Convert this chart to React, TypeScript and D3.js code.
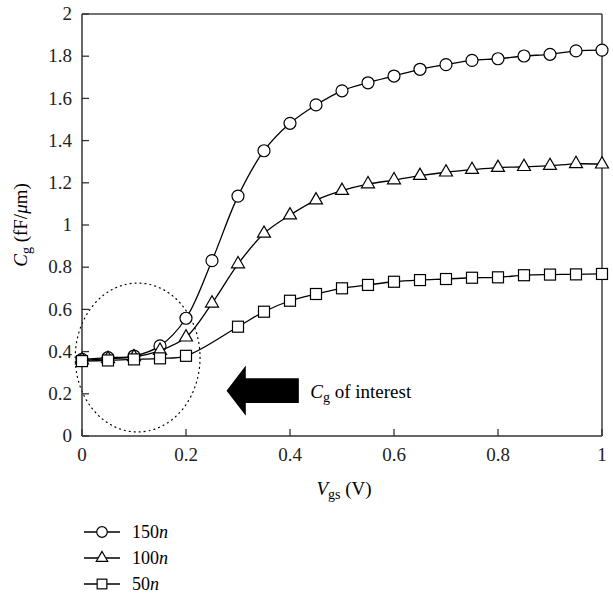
import React from "react";
import * as d3 from "d3";

const xs150 = [0, 0.05, 0.1, 0.15, 0.2, 0.25, 0.3, 0.35, 0.4, 0.45, 0.5, 0.55, 0.6, 0.65, 0.7, 0.75, 0.8, 0.85, 0.9, 0.95, 1.0];
const ys150 = [0.363, 0.371, 0.379, 0.427, 0.558, 0.831, 1.137, 1.352, 1.482, 1.569, 1.636, 1.674, 1.706, 1.738, 1.76, 1.78, 1.788, 1.801, 1.809, 1.825, 1.829];
const xs100 = [0, 0.05, 0.1, 0.15, 0.2, 0.25, 0.3, 0.35, 0.4, 0.45, 0.5, 0.55, 0.6, 0.65, 0.7, 0.75, 0.8, 0.85, 0.9, 0.95, 1.0];
const ys100 = [0.36, 0.366, 0.375, 0.405, 0.468, 0.629, 0.815, 0.96, 1.047, 1.118, 1.163, 1.194, 1.213, 1.234, 1.25, 1.262, 1.272, 1.276, 1.281, 1.29, 1.288];
const xs50 = [0, 0.05, 0.1, 0.15, 0.2, 0.3, 0.35, 0.4, 0.45, 0.5, 0.55, 0.6, 0.65, 0.7, 0.75, 0.8, 0.85, 0.9, 0.95, 1.0];
const ys50 = [0.355, 0.358, 0.363, 0.368, 0.38, 0.518, 0.589, 0.641, 0.673, 0.70, 0.716, 0.731, 0.739, 0.744, 0.75, 0.752, 0.762, 0.765, 0.766, 0.768];

const xTicks = [0, 0.2, 0.4, 0.6, 0.8, 1];
const yTicks = [0, 0.2, 0.4, 0.6, 0.8, 1, 1.2, 1.4, 1.6, 1.8, 2];
const seriesNames = ["150", "100", "50"];
const seriesMarkers = ["circle", "triangle", "square"];

const W = 613, H = 594;
const L = 82, R = 602, T = 14, B = 436;
const FONT = "'Liberation Serif', 'DejaVu Serif', serif";

function Marker({ type, cx, cy, k = 1 }: { type: string; cx: number; cy: number; k?: number }) {
  const st = { fill: "white", stroke: "black", strokeWidth: 1.2 };
  if (type === "circle") return <circle cx={cx} cy={cy} r={6 * k} {...st} />;
  if (type === "square") return <rect x={cx - 5.5 * k} y={cy - 5.5 * k} width={11 * k} height={11 * k} {...st} />;
  const s = 13 * k, h = s * Math.sqrt(3) / 2;
  return <polygon points={`${cx},${cy - h * 2 / 3} ${cx - s / 2},${cy + h / 3} ${cx + s / 2},${cy + h / 3}`} {...st} />;
}

export default function App() {
  const x = d3.scaleLinear().domain([0, 1]).range([L, R]);
  const y = d3.scaleLinear().domain([0, 2]).range([B, T]);
  const line = d3.line<[number, number]>().x(d => x(d[0])).y(d => y(d[1])).curve(d3.curveCatmullRom.alpha(0.5));
  const series = [
    { xs: xs150, ys: ys150 },
    { xs: xs100, ys: ys100 },
    { xs: xs50, ys: ys50 },
  ];
  const fmt = (v: number) => String(+v.toFixed(1));

  const ecx = x(0.107), ecy = y(0.372);
  const erx = x(0.12) - x(0), ery = y(0) - y(0.353);

  const aTip = [x(0.278), y(0.215)];
  const aHeadBase = x(0.315);
  const aEnd = x(0.417);
  const headHalf = y(0) - y(0.119);
  const shaftHalf = y(0) - y(0.059);

  return (
    <svg width={W} height={H} style={{ position: "absolute", left: 0, top: 0, background: "white" }} fontFamily={FONT}>
      <rect x={0} y={0} width={W} height={H} fill="white" />
      <ellipse cx={ecx} cy={ecy} rx={erx} ry={ery} fill="none" stroke="black" strokeWidth={1.2} strokeDasharray="1 4" strokeLinecap="round" />
      <polygon
        points={`${aTip[0]},${aTip[1]} ${aHeadBase},${aTip[1] - headHalf} ${aHeadBase},${aTip[1] - shaftHalf} ${aEnd},${aTip[1] - shaftHalf} ${aEnd},${aTip[1] + shaftHalf} ${aHeadBase},${aTip[1] + shaftHalf} ${aHeadBase},${aTip[1] + headHalf}`}
        fill="black"
      />
      <text x={x(0.439)} y={y(0.182)} fontSize={19}>
        <tspan fontStyle="italic">C</tspan>
        <tspan fontSize={14} dy={4}>g</tspan>
        <tspan dy={-4}> of interest</tspan>
      </text>

      <line x1={L} y1={T} x2={R} y2={T} stroke="#444" strokeWidth={1.3} />
      <line x1={R} y1={T} x2={R} y2={B} stroke="#222" strokeWidth={1.3} />
      <line x1={L} y1={T} x2={L} y2={B} stroke="#333" strokeWidth={1.5} />
      <line x1={L} y1={B} x2={R} y2={B} stroke="#333" strokeWidth={1.5} />

      {yTicks.map(t => (
        <g key={"y" + t}>
          <line x1={L} x2={L + 7} y1={y(t)} y2={y(t)} stroke="#333" strokeWidth={1.3} />
          <text x={L - 10} y={y(t)} dy="0.33em" textAnchor="end" fontSize={19} fill="#222">{fmt(t)}</text>
        </g>
      ))}
      {xTicks.map(t => (
        <g key={"x" + t}>
          <line x1={x(t)} x2={x(t)} y1={B} y2={B - 7} stroke="#333" strokeWidth={1.3} />
          <text x={x(t)} y={461} textAnchor="middle" fontSize={19} fill="#222">{fmt(t)}</text>
        </g>
      ))}

      <text x={344} y={495} textAnchor="middle" fontSize={19}>
        <tspan fontStyle="italic">V</tspan>
        <tspan fontSize={14} dy={4}>gs</tspan>
        <tspan dy={-4}> (V)</tspan>
      </text>
      <text transform={`translate(27, ${y(1)}) rotate(-90)`} textAnchor="middle" fontSize={19}>
        <tspan fontStyle="italic">C</tspan>
        <tspan fontSize={14} dy={4}>g</tspan>
        <tspan dy={-4}> (fF/</tspan>
        <tspan fontStyle="italic">μ</tspan>
        <tspan>m)</tspan>
      </text>

      {series.map((s, i) => {
        const pts = s.xs.map((v, j) => [v, s.ys[j]] as [number, number]);
        return (
          <g key={i}>
            <path d={line(pts) || ""} fill="none" stroke="black" strokeWidth={1.3} />
            {pts.map((p, j) => <Marker key={j} type={seriesMarkers[i]} cx={x(p[0])} cy={y(p[1])} />)}
          </g>
        );
      })}

      {seriesNames.map((n, i) => {
        const ly = 532 + i * 26;
        return (
          <g key={n}>
            <line x1={84} x2={120} y1={ly} y2={ly} stroke="black" strokeWidth={1.3} />
            <Marker type={seriesMarkers[i]} cx={102} cy={ly} k={0.88} />
            <text x={132} y={ly} dy="0.33em" fontSize={18}>
              {n}<tspan fontStyle="italic">n</tspan>
            </text>
          </g>
        );
      })}
    </svg>
  );
}
